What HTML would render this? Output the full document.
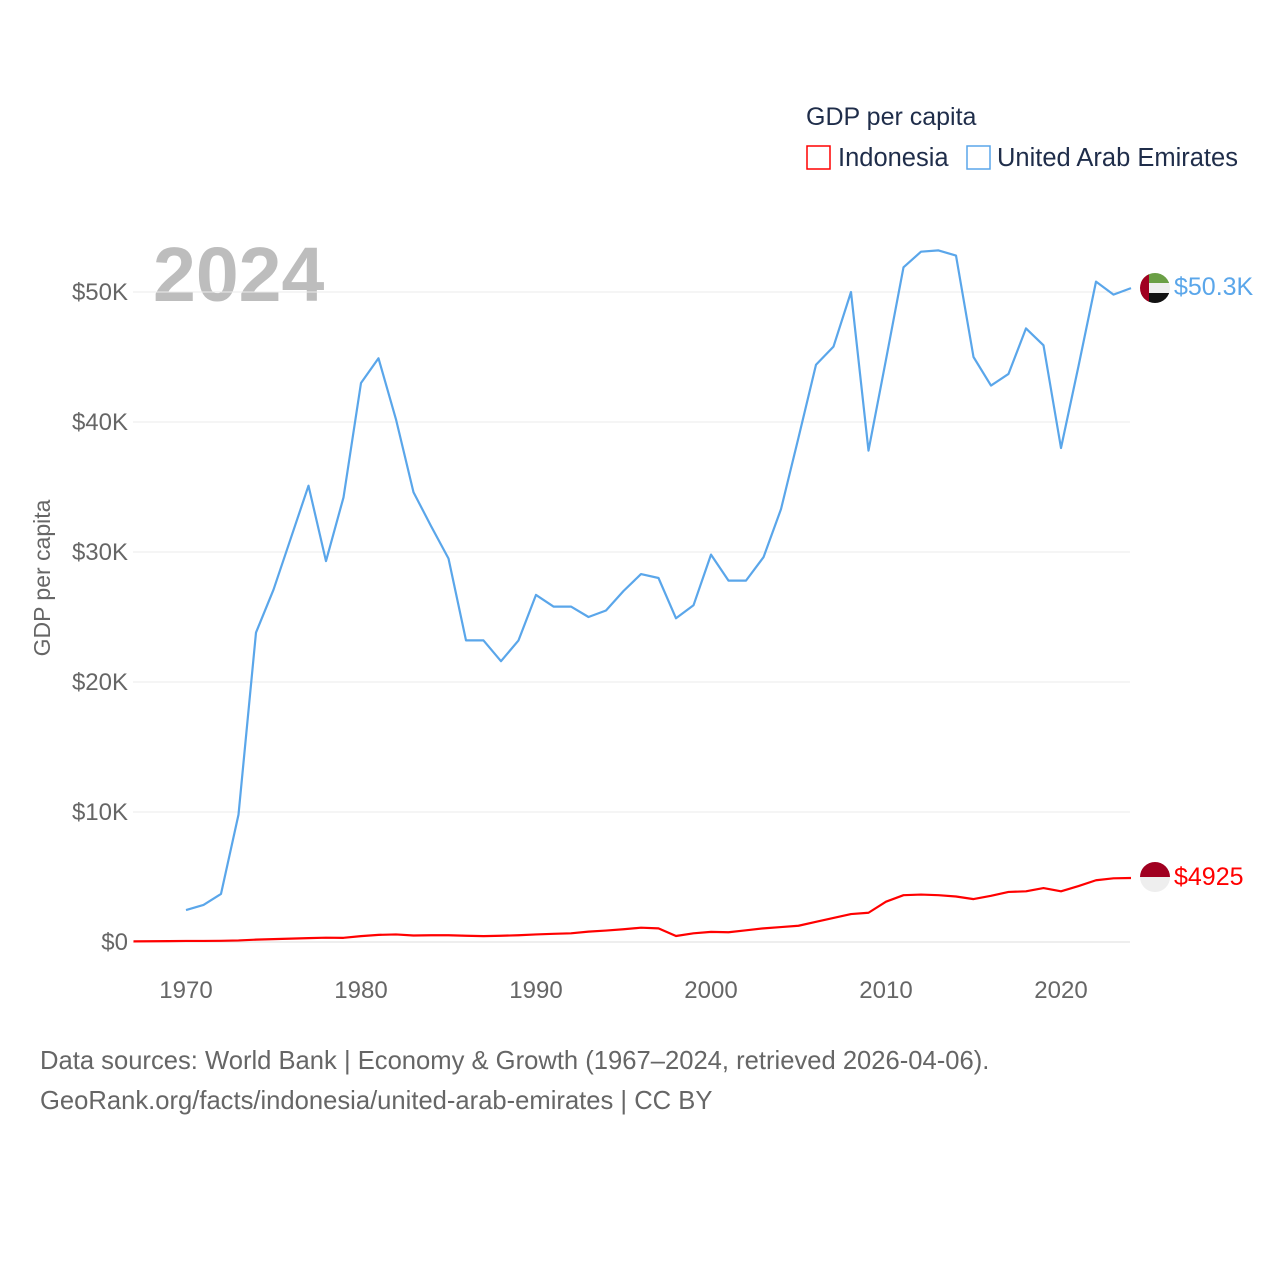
<!DOCTYPE html>
<html><head><meta charset="utf-8"><style>
body{margin:0;background:#fff;font-family:"Liberation Sans",sans-serif;}
</style></head><body>
<svg width="1280" height="1280" xmlns="http://www.w3.org/2000/svg" font-family="Liberation Sans, sans-serif">
<text x="806" y="125" font-size="25" fill="#1f2d4a">GDP per capita</text>
<g><rect x="807" y="146" width="23" height="23" fill="none" stroke="#ff0000" stroke-width="1.5"/><text x="838" y="166" font-size="25.5" fill="#1f2d4a">Indonesia</text></g>
<g><rect x="967" y="146" width="23" height="23" fill="none" stroke="#5aa6ea" stroke-width="1.5"/><text x="997" y="166" font-size="25.5" fill="#1f2d4a">United Arab Emirates</text></g>
<text x="153" y="301" font-size="77" font-weight="bold" fill="#bdbdbd">2024</text>
<text transform="translate(50,578) rotate(-90)" text-anchor="middle" font-size="23" fill="#666">GDP per capita</text>
<g id="grid"></g><g id="yt"></g><g id="xt"></g><g id="lines"></g>
<g>
<clipPath id="c1"><circle cx="1155" cy="288" r="15"/></clipPath>
<g clip-path="url(#c1)"><rect x="1140" y="273" width="30" height="10" fill="#6a9f45"/><rect x="1140" y="283" width="30" height="10" fill="#eee"/><rect x="1140" y="293" width="30" height="10" fill="#111"/><rect x="1140" y="273" width="9" height="30" fill="#a00020"/></g>
<text x="1174" y="295" font-size="25" fill="#5aa6ea">$50.3K</text></g>
<g>
<clipPath id="c2"><circle cx="1155" cy="877" r="15"/></clipPath>
<g clip-path="url(#c2)"><rect x="1140" y="862" width="30" height="15" fill="#a00020"/><rect x="1140" y="877" width="30" height="15" fill="#eee"/></g>
<text x="1174" y="885" font-size="25" fill="#ff0000">$4925</text></g>
<text x="40" y="1069" font-size="25.6" fill="#666">Data sources: World Bank | Economy &amp; Growth (1967–2024, retrieved 2026-04-06).</text>
<text x="40" y="1109" font-size="25.6" fill="#666">GeoRank.org/facts/indonesia/united-arab-emirates | CC BY</text>
</svg>
<script>
const yTicks=[0,10,20,30,40,50];
const yTickLabels=["$0","$10K","$20K","$30K","$40K","$50K"];
const xTicks=[1970,1980,1990,2000,2010,2020];
const uaeYears=[];for(let y=1970;y<=2024;y++)uaeYears.push(y);
const uaeValues=[2.46,2.85,3.7,9.8,23.8,27.1,31.1,35.1,29.3,34.2,43.0,44.9,40.2,34.6,32.0,29.5,23.2,23.2,21.6,23.2,26.7,25.8,25.8,25.0,25.5,27.0,28.3,28.0,24.9,25.9,29.8,27.8,27.8,29.6,33.3,38.8,44.4,45.8,50.0,37.8,44.8,51.9,53.1,53.2,52.8,45.0,42.8,43.7,47.2,45.9,38.0,44.3,50.8,49.8,50.3];
const idnYears=[];for(let y=1967;y<=2024;y++)idnYears.push(y);
const idnValues=[0.05,0.06,0.07,0.08,0.08,0.09,0.12,0.18,0.22,0.26,0.3,0.33,0.32,0.45,0.55,0.58,0.5,0.52,0.52,0.48,0.45,0.48,0.52,0.58,0.63,0.67,0.8,0.88,0.98,1.1,1.05,0.46,0.67,0.78,0.75,0.9,1.05,1.15,1.25,1.55,1.85,2.15,2.25,3.1,3.6,3.65,3.6,3.5,3.3,3.55,3.85,3.9,4.15,3.9,4.3,4.75,4.9,4.925];
const X=yr=>133.5+(yr-1967)*17.5;
const Y=v=>942-v*13;
const NS="http://www.w3.org/2000/svg";
function mk(t,a,p){const e=document.createElementNS(NS,t);for(const k in a)e.setAttribute(k,a[k]);p.appendChild(e);return e;}
const grid=document.getElementById('grid'),yt=document.getElementById('yt'),xt=document.getElementById('xt'),lines=document.getElementById('lines');
yTicks.forEach((v,i)=>{
 const l=mk('line',{x1:133,x2:1130,y1:Y(v),y2:Y(v),stroke:v===0?'#ddd':'#ebebeb','stroke-width':1},grid);
 
 
 const t=mk('text',{x:128,y:Y(v)+8,'text-anchor':'end','font-size':24,fill:'#666'},yt);
 t.textContent=yTickLabels[i];
 
 
});
xTicks.forEach(yr=>{
 const t=mk('text',{x:X(yr),y:998,'text-anchor':'middle','font-size':24,fill:'#666'},xt);
 t.textContent=yr;
 
 
});
function line(ys,vs,c,name){
 const p=mk('polyline',{points:ys.map((y,i)=>X(y)+','+Y(vs[i])).join(' '),fill:'none',stroke:c,'stroke-width':2.2,'stroke-linejoin':'round'},lines);
 
 
}
line(idnYears,idnValues,'#ff0000','indonesia-line');
line(uaeYears,uaeValues,'#5aa6ea','uae-line');
</script>
</body></html>
